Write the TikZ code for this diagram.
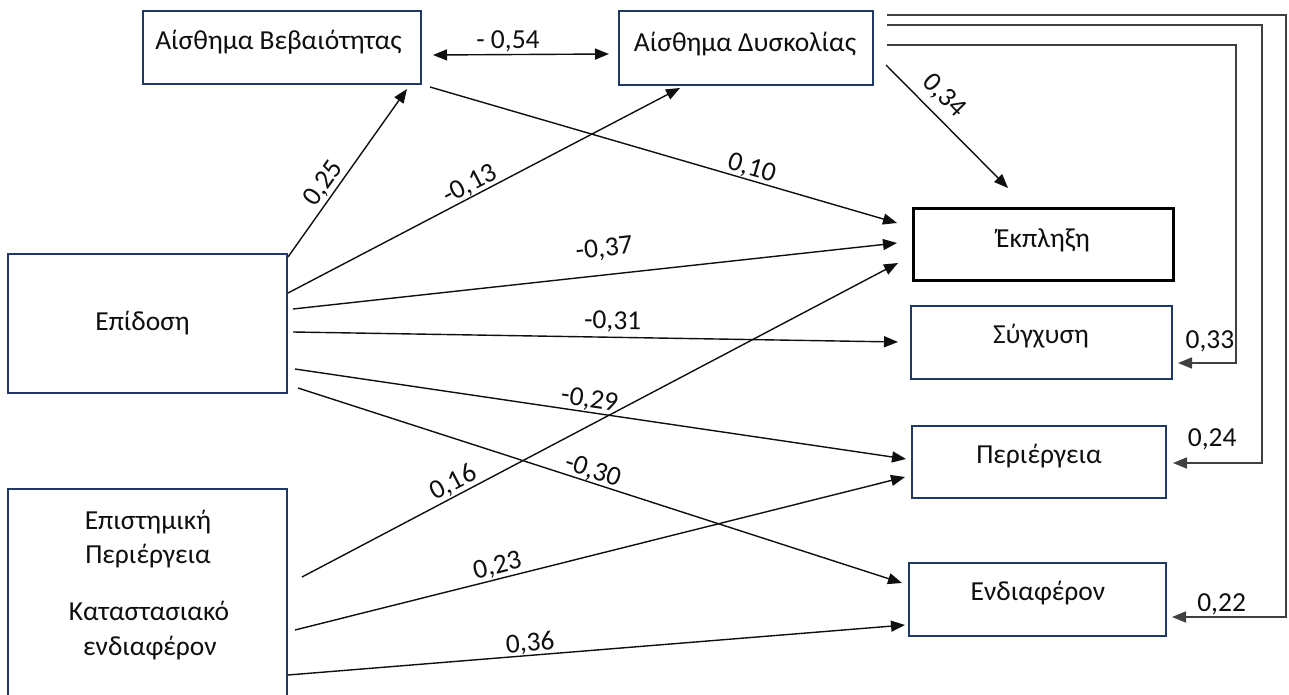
\documentclass[tikz,border=0pt]{standalone}
\usepackage{fontspec}
\setmainfont{Carlito}
\usetikzlibrary{arrows.meta,calc}
\definecolor{navy}{RGB}{32,56,100}
\definecolor{ink}{RGB}{15,15,15}
\begin{document}
\begin{tikzpicture}[x=1pt,y=-1pt,
  box/.style={draw=navy, line width=2.4pt, rectangle, inner sep=0pt, outer sep=0pt},
  bigbox/.style={draw=black, line width=3pt, rectangle, inner sep=0pt, outer sep=0pt},
  txt/.style={font=\fontsize{27.5}{32}\selectfont, text=ink, inner sep=0pt, anchor=base},
  tip/.style={Triangle[length=14pt,width=11pt]},
  arr/.style={draw=ink, line width=1.4pt, -{Triangle[length=14pt,width=11pt]}},
  dbl/.style={draw=ink, line width=1.4pt, {Triangle[length=14pt,width=11pt]}-{Triangle[length=14pt,width=11pt]}},
  fb/.style={draw=black!75, line width=1.6pt, -{Triangle[length=14pt,width=11pt]}},
  coef/.style={font=\fontsize{27.5}{32}\selectfont, text=ink, sloped, above, inner xsep=0pt, inner ysep=2pt},
  coefh/.style={font=\fontsize{27.5}{32}\selectfont, text=ink, above, inner xsep=0pt, inner ysep=2pt}
]
\fill[white] (0,0) rectangle (1289,695);
\useasboundingbox (0,0) rectangle (1289,695);
\clip (0,0) rectangle (1289,695);

% boxes
\node[box, minimum width=278pt, minimum height=73pt] (bev) at (282,47.5) {};
\node[box, minimum width=254pt, minimum height=74pt] (dys) at (746,48) {};
\node[bigbox, minimum width=260pt, minimum height=72pt] (ekp) at (1043,244) {};
\node[box, minimum width=261pt, minimum height=73pt] (syg) at (1041.5,342.5) {};
\node[box, minimum width=254pt, minimum height=72pt] (per) at (1039,462) {};
\node[box, minimum width=257pt, minimum height=73pt] (endn) at (1037.5,599.5) {};
\node[box, minimum width=279pt, minimum height=139pt] (epi) at (147.5,323.5) {};
\node[box, minimum width=279pt, minimum height=211pt] (epp) at (147.5,594.5) {};

% texts
\node[txt] (tbev) at (278.5,50) {Αίσθημα Βεβαιότητας};
\node[txt] (tdys) at (745,52) {Αίσθημα Δυσκολίας};
\node[txt] (tekp) at (1043,247) {Έκπληξη};
\node[txt] (tsyg) at (1041,343) {Σύγχυση};
\node[txt] (tper) at (1039,463) {Περιέργεια};
\node[txt] (tend) at (1038,600) {Ενδιαφέρον};
\node[txt] (tepi) at (142.5,330) {Επίδοση};
\node[txt] (tepp1) at (148,529) {Επιστημική};
\node[txt] (tepp2) at (148,563) {Περιέργεια};
\node[txt] (tepp3) at (149,620) {Καταστασιακό};
\node[txt] (tepp4) at (150,655) {ενδιαφέρον};

% correlation
\draw[dbl] ($(bev.east)+(12,7.5)$) -- node[coefh, pos=0.426, inner ysep=2pt] {- 0,54} ($(dys.west)+(-10,6)$);

% paths from Epidosi
\draw[arr] ($(epi.north east)+(1,3)$) -- node[coef, pos=0.389, inner ysep=2pt] {0,25} ($(bev.south east)+(-14,5)$);
\draw[arr] ($(epi.east)+(1,-30.5)$) -- node[coef, pos=0.478, inner ysep=0pt] {-0,13} ($(dys.south west)+(61,3)$);
\draw[arr] ($(epi.east)+(6,-14.5)$) -- node[coef, pos=0.52, inner ysep=14pt] {-0,37} ($(ekp.west)+(-16,-1)$);
\draw[arr] ($(epi.east)+(6,8.5)$) -- node[coef, pos=0.528, inner ysep=4pt] {-0,31} ($(syg.west)+(-13,-0.5)$);
\draw[arr] ($(epi.east)+(8,45.5)$) -- node[coef, pos=0.479, inner ysep=1pt] {-0,29} ($(per.west)+(-6,-3)$);
\draw[arr] ($(epi.east)+(11,64.5)$) -- node[coef, pos=0.482, inner ysep=0pt] {-0,30} ($(endn.west)+(-7,-16.5)$);

% from Aisthima Vevaiotitas
\draw[arr] ($(bev.south east)+(9,3)$) -- node[coef, pos=0.682, inner ysep=0pt] {0,10} ($(ekp.west)+(-16,-21)$);

% from lower-left box
\draw[arr] ($(epp.east)+(15,-17.5)$) -- node[coef, pos=0.264, inner ysep=1pt] {0,16} ($(ekp.west)+(-15,19)$);
\draw[arr] ($(epp.east)+(8,35.5)$) -- node[coef, pos=0.337, inner ysep=1pt] {0,23} ($(per.west)+(-7,15)$);
\draw[arr] ($(epp.east)+(1,80.5)$) -- node[coef, pos=0.394, inner ysep=0pt] {0,36} ($(endn.west)+(-4,25.5)$);

% from Aisthima Dyskolias
\draw[arr] ($(dys.east)+(13,17)$) -- node[coef, pos=0.363, inner ysep=8pt] {0,34} ($(ekp.north)+(-35,-20)$);
\draw[fb] ($(dys.north east)+(14,4)$) -| ($(endn.east)+(120,17.5)$) -- node[coefh, pos=0.565, inner ysep=1.5pt] {0,22} ($(endn.east)+(6,17.5)$);
\draw[fb] ($(dys.north east)+(14,14)$) -| ($(per.east)+(96,1)$) -- node[coefh, pos=0.56, inner ysep=12pt] {0,24} ($(per.east)+(7,1)$);
\draw[fb] ($(dys.north east)+(14,34)$) -| ($(syg.east)+(64,20.5)$) -- node[coefh, pos=0.45, inner ysep=10pt] {0,33} ($(syg.east)+(6,20.5)$);
\end{tikzpicture}
\end{document}
